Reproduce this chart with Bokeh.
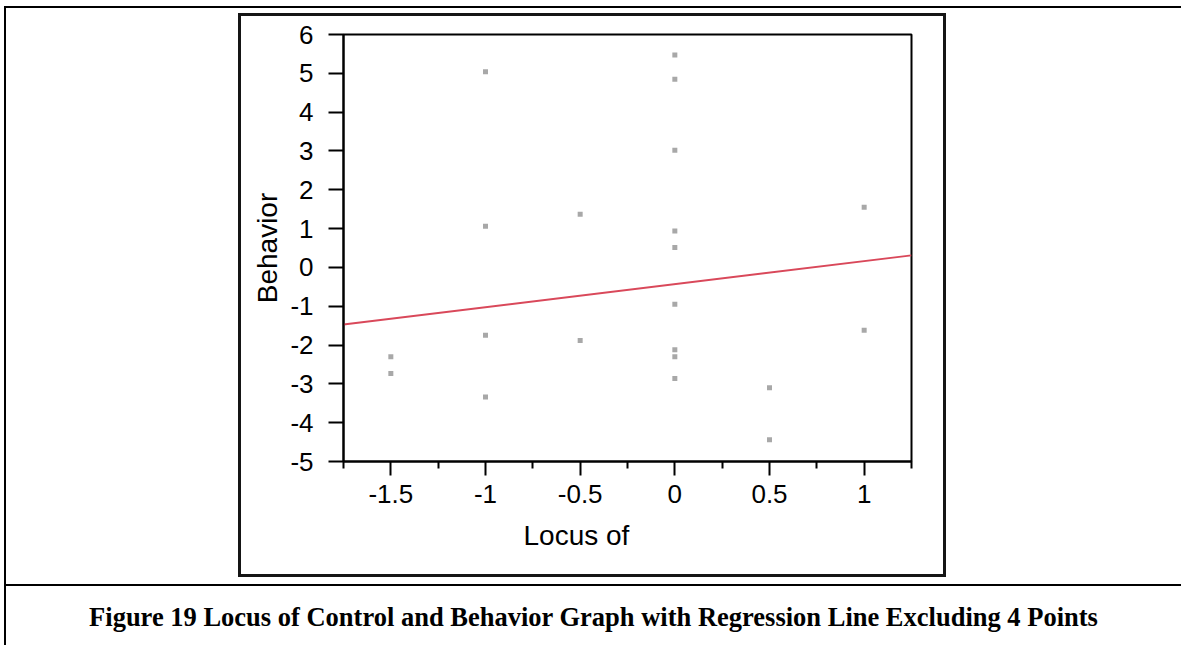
from bokeh.plotting import figure
from bokeh.models import FixedTicker, CustomJSTickFormatter, Range1d, Div, Title
from bokeh.layouts import column, row
from bokeh.embed import file_html
from bokeh.resources import INLINE

# ---- data ----
locus = [-1.5, -1.5,
         -1.0, -1.0, -1.0, -1.0,
         -0.5, -0.5,
         0.0, 0.0, 0.0, 0.0, 0.0, 0.0, 0.0, 0.0, 0.0,
         0.5, 0.5,
         1.0, 1.0]
behavior = [-2.30, -2.73,
            5.04, 1.06, -1.75, -3.34,
            1.37, -1.88,
            5.47, 4.85, 3.02, 0.94, 0.51, -0.95, -2.12, -2.30, -2.86,
            -3.10, -4.44,
            1.55, -1.62]
reg_x = [-1.75, 1.25]
reg_y = [-1.47, 0.31]
x_ticks = [-1.5, -1.0, -0.5, 0.0, 0.5, 1.0]
x_minor = [-1.75, -1.25, -0.75, -0.25, 0.25, 0.75, 1.25]
y_ticks = [-5, -4, -3, -2, -1, 0, 1, 2, 3, 4, 5, 6]
x_title = "Locus of"
y_title = "Behavior"
caption = "Figure 19 Locus of Control and Behavior Graph with Regression Line Excluding 4 Points"

p = figure(width=702, height=558, output_backend="svg", toolbar_location=None,
           x_range=Range1d(-1.75, 1.25), y_range=Range1d(-5, 6),
           min_border_left=102, min_border_right=32,
           min_border_top=18, min_border_bottom=113)
p.background_fill_color = "white"
p.border_fill_color = "white"
p.outline_line_color = "black"
p.outline_line_width = 2
p.xgrid.visible = False
p.ygrid.visible = False

fmt = CustomJSTickFormatter(code="return tick.toString();")

xa = p.xaxis[0]
xa.ticker = FixedTicker(ticks=x_ticks, minor_ticks=x_minor)
xa.formatter = fmt
xa.axis_line_width = 2
xa.major_tick_line_width = 2
xa.minor_tick_line_width = 2
xa.major_tick_out = 14
xa.major_tick_in = 0
xa.minor_tick_out = 7
xa.minor_tick_in = 0
xa.major_label_standoff = 9
xa.major_label_text_font = "Liberation Sans"
xa.major_label_text_font_size = "26px"
xa.major_label_text_color = "black"

# x-axis title sits left of centre in the reference, so place it as a
# below-panel title with an offset
p.add_layout(Title(text=x_title, align="left", offset=180, standoff=24,
                   text_font="Liberation Sans", text_font_size="28px",
                   text_font_style="normal", text_color="black"), "below")

ya = p.yaxis[0]
ya.ticker = FixedTicker(ticks=y_ticks, minor_ticks=[])
ya.formatter = fmt
ya.axis_line_width = 2
ya.major_tick_line_width = 2
ya.major_tick_out = 15
ya.major_tick_in = 0
ya.minor_tick_out = 0
ya.minor_tick_in = 0
ya.major_label_standoff = 15
ya.major_label_text_font = "Liberation Sans"
ya.major_label_text_font_size = "26px"
ya.major_label_text_color = "black"
ya.axis_label = y_title
ya.axis_label_text_font = "Liberation Sans"
ya.axis_label_text_font_size = "28px"
ya.axis_label_text_font_style = "normal"
ya.axis_label_text_color = "black"
ya.axis_label_standoff = 4

p.scatter(locus, behavior, marker="square", size=5, fill_color="#a8a8a8",
          line_color=None)
p.line(reg_x, reg_y, line_color="#d9485a", line_width=2)


def blank(w, h):
    return Div(text="", width=w, height=h, margin=0)


def ink(w, h, c="black"):
    return Div(text="", width=w, height=h, margin=0,
               styles={"background-color": c})


box_c = "#151515"
inner_box = column(
    blank(708, 5),
    ink(708, 3, box_c),
    row(ink(3, 558, box_c), p, ink(3, 558, box_c), spacing=0),
    ink(708, 3, box_c),
    blank(708, 6),
    spacing=0)

cap_html = ('<div style="width:1175px;text-align:center;padding-top:16px;'
            'font-family:\'Liberation Serif\';font-weight:bold;font-size:26.5px;'
            'line-height:30px;color:black;white-space:nowrap;">%s</div>' % caption)
cap_div = Div(text=cap_html, width=1175, height=59, margin=0)

page = column(
    blank(1181, 6),
    row(blank(4, 2), ink(1177, 2), spacing=0),
    row(blank(4, 576), ink(2, 576), blank(232, 576), inner_box, blank(235, 576),
        spacing=0),
    row(blank(4, 2), ink(1177, 2), spacing=0),
    row(blank(4, 59), ink(2, 59), cap_div, spacing=0),
    spacing=0)

open("out.html", "w").write(file_html(page, INLINE))
